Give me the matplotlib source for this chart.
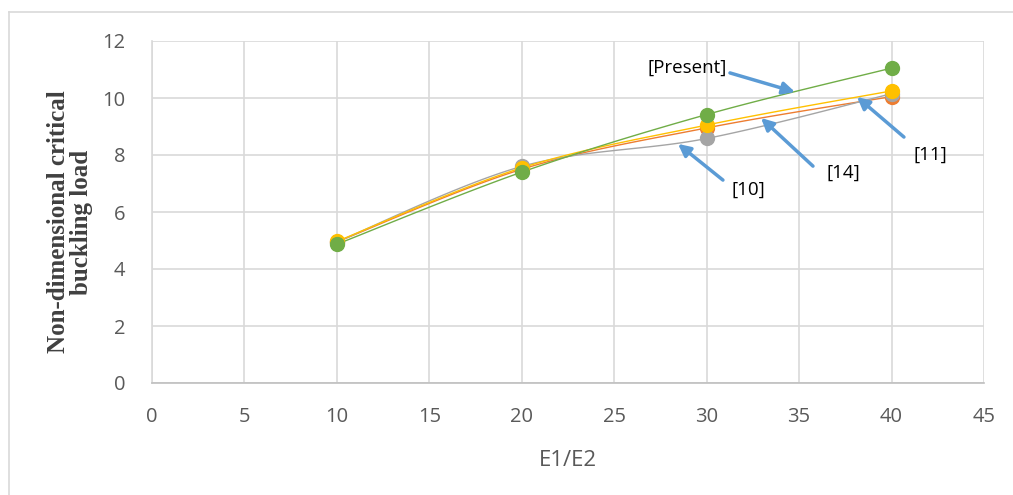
import numpy as np
import matplotlib.pyplot as plt
from matplotlib.lines import Line2D

# E1/E2 ratios and non-dimensional critical buckling load
ratio = [10, 20, 30, 40]
ref14 = [4.95, 7.50, 8.95, 10.05]    # orange
ref10 = [4.95, 7.60, 8.58, 10.15]    # gray
ref11 = [4.97, 7.55, 9.05, 10.25]    # yellow
present = [4.87, 7.40, 9.42, 11.05]  # green

series = [
    (ref14, '#ed7d31'),
    (ref10, '#a5a5a5'),
    (ref11, '#ffc000'),
    (present, '#70ad47'),
]

# annotation labels: text, arrow head (data), arrow tail (data), text pos
notes = [
    ("[Present]", (34.78, 10.21), (31.26, 10.88), (31.1, 11.05), 'right'),
    ("[10]", (28.45, 8.39), (30.88, 7.12), (32.23, 6.77), 'center'),
    ("[14]", (32.94, 9.30), (35.75, 7.61), (37.37, 7.37), 'center'),
    ("[11]", (38.13, 10.04), (40.67, 8.63), (42.08, 8.0), 'center'),
]


def smooth(x, y, n=40):
    # Catmull-Rom style bezier like Excel's smoothed line
    x = np.asarray(x, float)
    y = np.asarray(y, float)
    px = np.concatenate([[x[0]], x, [x[-1]]])
    py = np.concatenate([[y[0]], y, [y[-1]]])
    xs, ys = [], []
    t = np.linspace(0, 1, n)
    for i in range(1, len(px) - 2):
        p0 = np.array([px[i], py[i]])
        p3 = np.array([px[i + 1], py[i + 1]])
        p1 = p0 + (np.array([px[i + 1], py[i + 1]]) - np.array([px[i - 1], py[i - 1]])) / 6
        p2 = p3 - (np.array([px[i + 2], py[i + 2]]) - np.array([px[i], py[i]])) / 6
        b = ((1 - t) ** 3)[:, None] * p0 + (3 * (1 - t) ** 2 * t)[:, None] * p1 \
            + (3 * (1 - t) * t ** 2)[:, None] * p2 + (t ** 3)[:, None] * p3
        xs.extend(b[:, 0])
        ys.extend(b[:, 1])
    return xs, ys


plt.rcParams['font.family'] = ['Open Sans', 'DejaVu Sans']

fig = plt.figure(figsize=(10.13, 4.95), dpi=100)
ax = fig.add_axes([152 / 1013, 1 - 383 / 495, (984 - 152) / 1013, (383 - 41) / 495])

for vals, col in series:
    sx, sy = smooth(ratio, vals)
    ax.plot(sx, sy, color=col, lw=1.0, zorder=3)
    ax.plot(ratio, vals, 'o', color=col, ms=10, zorder=4)

for txt, head, tail, tpos, ha in notes:
    ax.annotate('', xy=head, xytext=tail,
                arrowprops=dict(arrowstyle='-|>', color='#5b9bd5', lw=2.5,
                                mutation_scale=18, shrinkA=0, shrinkB=0),
                zorder=5)
    ax.text(tpos[0], tpos[1], txt, ha=ha, va='center', fontsize=13.5,
            color='black', zorder=6)

ax.set_xlim(0, 45)
ax.set_ylim(0, 12)
ax.set_xticks(np.arange(0, 46, 5))
ax.set_yticks(np.arange(0, 13, 2))
ax.grid(True, color='#d9d9d9', lw=1.2)
ax.set_axisbelow(True)
for s in ['top', 'right']:
    ax.spines[s].set_visible(False)
ax.spines['left'].set_color('#d9d9d9')
ax.spines['bottom'].set_color('#bfbfbf')
ax.spines['left'].set_linewidth(1.2)
ax.spines['bottom'].set_linewidth(1.2)
ax.tick_params(axis='x', length=0, labelsize=14.5, colors='#595959', pad=17)
ax.tick_params(axis='y', length=0, labelsize=14.5, colors='#595959', pad=19)

ax.set_xlabel("E1/E2", fontsize=16, color='#595959', labelpad=17)
ax.set_ylabel("Non-dimensional critical\nbuckling load", fontsize=18,
              family='Liberation Serif', fontweight='bold', color='#404040',
              linespacing=1.0, va='center')
ax.yaxis.set_label_coords(70 / 1013, 1 - 222 / 495, transform=fig.transFigure)

# outer chart border
fig.add_artist(Line2D([9 / 1013, 9 / 1013], [0, 1 - 12 / 495], color='#d9d9d9', lw=1.2))
fig.add_artist(Line2D([9 / 1013, 1], [1 - 12 / 495, 1 - 12 / 495], color='#d9d9d9', lw=1.2))

fig.savefig("out.png", dpi=100)
